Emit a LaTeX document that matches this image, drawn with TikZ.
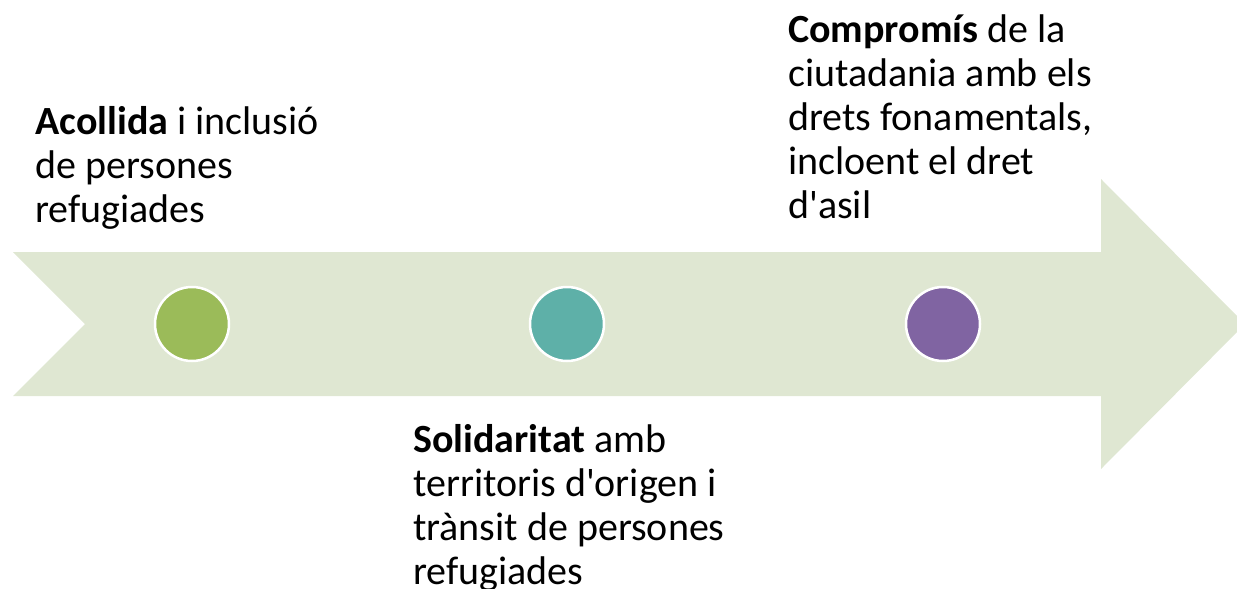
\documentclass[tikz,border=0pt]{standalone}
\usepackage{fontspec}
\setmainfont{Carlito}[Ligatures=TeXOff]
\definecolor{arrowfill}{HTML}{DFE7D2}
\definecolor{cgreen}{HTML}{9BBB59}
\definecolor{cteal}{HTML}{5EB0A8}
\definecolor{cpurple}{HTML}{8064A2}
\tikzset{
  dot/.style={circle, minimum size=74pt, inner sep=0pt, draw=white, line width=2.5pt},
  label/.style={anchor=base west, align=left, inner sep=0pt, font=\fontsize{40}{44}\selectfont, text=black}
}
\begin{document}
\begin{tikzpicture}[x=1pt,y=-1pt]
\useasboundingbox (0,0) rectangle (1237,589);
\begin{scope}
\clip (0,0) rectangle (1237,589);
\fill[arrowfill] (13,252) -- (1101,252) -- (1101,179) -- (1245,324) -- (1101,469) -- (1101,396) -- (13,396) -- (85,324) -- cycle;
\end{scope}
\node[dot, fill=cgreen] (c1) at (192,324) {};
\node[dot, fill=cteal] (c2) at (567,324) {};
\node[dot, fill=cpurple] (c3) at (943,324) {};
\node[label] (t1) at (35,222) {\textbf{Acollida} i inclusió\\de persones\\refugiades};
\node[label] (t2) at (413,584) {\textbf{Solidaritat} amb\\territoris d'origen i\\trànsit de persones\\refugiades};
\node[label] (t3) at (788,218) {\textbf{Compromís} de la\\ciutadania amb els\\drets fonamentals,\\incloent el dret\\d'asil};
\end{tikzpicture}
\end{document}
